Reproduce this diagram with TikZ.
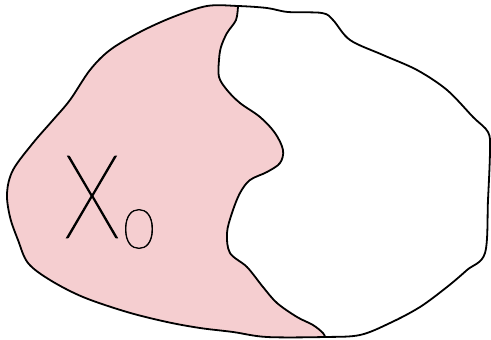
\documentclass[tikz,border=0pt]{standalone}
\usepackage{fontspec}
\usepackage{tikz}
\newfontfamily\handfont{Lato Thin}[FakeBold=1.2]
\definecolor{blobpink}{RGB}{245,206,208}
\tikzset{
  rim/.style={line width=1.8pt,line join=round,line cap=round},
  region/.style={fill=blobpink},
  hlab/.style={font=\handfont,inner sep=0pt}
}

\begin{document}
\begin{tikzpicture}[x=1pt,y=-1pt]
  \useasboundingbox (0,0) rectangle (491,340);
  % pink part, clipped to the outline
  \begin{scope}
    \clip plot[smooth cycle,tension=0.55] coordinates {(207,6) (238,6) (267,8) (288,12) (322,13) (333,20) (350,40) (383,55) (417,70) (447,90) (473,117) (488,132) (490,150) (488,200) (485,253) (467,270) (447,287) (420,307) (390,323) (360,335) (325,337) (267,337) (233,332) (200,328) (167,322) (127,312) (83,297) (50,280) (28,263) (18,240) (10,217) (7,193) (13,170) (33,143) (53,120) (70,100) (90,70) (110,50) (140,32) (173,17)};
    \fill[region] (0,0) -- (238,0) -- plot[smooth,tension=0.55] coordinates {(238,6) (236,20) (227,33) (221,47) (219,60) (219,77) (227,90) (240,103) (260,117) (275,133) (283,150) (280,163) (267,172) (250,180) (240,193) (232,213) (227,233) (230,253) (247,267) (263,287) (277,303) (297,317) (313,325) (323,333) (325,337)} -- (325,340) -- (0,340) -- cycle;
  \end{scope}
  % outline and divide
  \draw[rim] plot[smooth cycle,tension=0.55] coordinates {(207,6) (238,6) (267,8) (288,12) (322,13) (333,20) (350,40) (383,55) (417,70) (447,90) (473,117) (488,132) (490,150) (488,200) (485,253) (467,270) (447,287) (420,307) (390,323) (360,335) (325,337) (267,337) (233,332) (200,328) (167,322) (127,312) (83,297) (50,280) (28,263) (18,240) (10,217) (7,193) (13,170) (33,143) (53,120) (70,100) (90,70) (110,50) (140,32) (173,17)};
  \draw[rim] plot[smooth,tension=0.55] coordinates {(238,6) (236,20) (227,33) (221,47) (219,60) (219,77) (227,90) (240,103) (260,117) (275,133) (283,150) (280,163) (267,172) (250,180) (240,193) (232,213) (227,233) (230,253) (247,267) (263,287) (277,303) (297,317) (313,325) (323,333) (325,337)};
  % label
  \node[hlab,font=\handfont\fontsize{116}{116}\selectfont,xscale=0.8] (xsym) at (92,197) {X};
  \node[hlab,font=\handfont\fontsize{55}{55}\selectfont] (xsub) at (139,229) {0};
\end{tikzpicture}
\end{document}
